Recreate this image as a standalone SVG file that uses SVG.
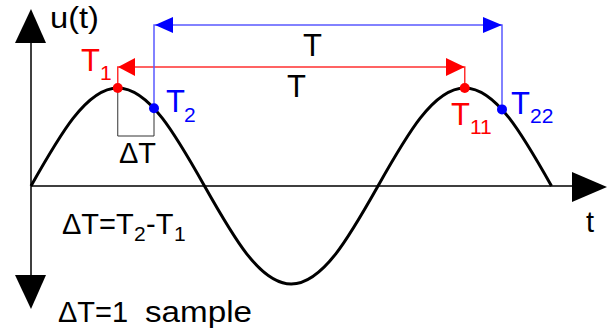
<svg xmlns="http://www.w3.org/2000/svg" width="609" height="331" viewBox="0 0 609 331">
<style>
text{font-family:"Liberation Sans",Arial,sans-serif;font-size:29px}
.big{font-size:31px}
.k{fill:#000}
.r{fill:#ff0000}
.b{fill:#0000ff}
.sub{font-size:21px}
.ax{stroke:#000;stroke-width:1.5;fill:none}
.rl{stroke:#ff3030;stroke-width:1.5;fill:none}
.bl{stroke:#5a5aff;stroke-width:1.5;fill:none}
</style>
<rect width="609" height="331" fill="#fff"/>
<g id="axes">
<path class="ax" d="M31,40V278M31,186H575"/>
<polygon points="31,9 15,43 46,43" fill="#000"/>
<polygon points="31,309 15,275 46,275" fill="#000"/>
<polygon points="607,187 572,172 572,202" fill="#000"/>
<text class="k" x="50" y="28" textLength="49" lengthAdjust="spacingAndGlyphs">u(t)</text>
<text class="k" x="586" y="232">t</text>
</g>
<g id="wave">
<path d="M31,186C59.29,135.8 86.36,88 117.75,88C149.14,88 176.21,135.8 204.5,186C232.79,236.2 259.86,284 291.25,284C322.64,284 349.71,236.2 378,186C406.29,135.8 433.36,88 464.75,88C496.14,88 523.21,135.8 551.5,186" fill="none" stroke="#000" stroke-width="3"/>
</g>
<g id="connectors">
<path class="rl" d="M117.75,88V67H464.75V88"/>
<polygon points="118,67 135,58 135,76" fill="#ff0000"/>
<polygon points="464.75,67 446,58 446,76" fill="#ff0000"/>
<path class="bl" d="M154,108.3V25H502V109.4"/>
<polygon points="155,25 173,17 173,33" fill="#0000ff"/>
<polygon points="502,25 483,17 483,33" fill="#0000ff"/>
<path d="M117.75,88V136H154V108.3" fill="none" stroke="#333" stroke-width="1"/>
</g>
<g id="T1">
<circle cx="117.75" cy="88" r="5" fill="#ff0000"/>
<text class="r big" x="81" y="71">T<tspan class="sub" x="100" y="80">1</tspan></text>
</g>
<g id="T2">
<circle cx="154" cy="108.3" r="5" fill="#0000ff"/>
<text class="b big" x="166" y="112">T<tspan class="sub" x="184" y="122">2</tspan></text>
</g>
<g id="T11">
<circle cx="464.75" cy="88" r="5" fill="#ff0000"/>
<text class="r big" x="451" y="125">T<tspan class="sub" x="470" y="134">11</tspan></text>
</g>
<g id="T22">
<circle cx="502" cy="109.4" r="5" fill="#0000ff"/>
<text class="b big" x="511" y="114">T<tspan class="sub" x="530" y="123">22</tspan></text>
</g>
<g id="labels">
<text class="k big" x="303" y="56">T</text>
<text class="k big" x="287" y="97">T</text>
<text class="k" x="119" y="163">ΔT</text>
<text class="k" x="62" y="234">ΔT=T<tspan class="sub" x="134" y="241">2</tspan><tspan x="146" y="234">-T</tspan><tspan class="sub" x="174" y="241">1</tspan></text>
<text class="k" x="58" y="322">ΔT=1</text>
<text class="k" x="145" y="322" textLength="107" lengthAdjust="spacingAndGlyphs">sample</text>
</g>
</svg>
